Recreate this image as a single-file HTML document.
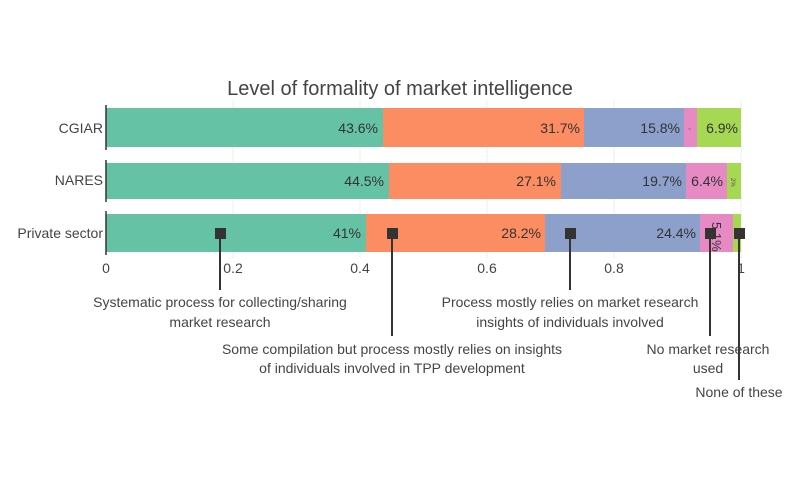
<!DOCTYPE html>
<html><head><meta charset="utf-8"><style>
body{margin:0;background:#fff;}
svg{font-family:"Liberation Sans",sans-serif;}
</style></head><body>
<svg width="800" height="480" xmlns="http://www.w3.org/2000/svg">
<rect width="800" height="480" fill="#fff"/>
<g stroke="#eee" stroke-width="1">
<line x1="233" y1="100" x2="233" y2="258"/><line x1="360" y1="100" x2="360" y2="258"/>
<line x1="487" y1="100" x2="487" y2="258"/><line x1="614" y1="100" x2="614" y2="258"/>
<line x1="741" y1="100" x2="741" y2="258"/>
</g>
<text x="400" y="95" font-size="20" fill="#444" text-anchor="middle">Level of formality of market intelligence</text>
<!-- CGIAR -->
<g>
<rect x="106" y="108" width="277" height="39" fill="#66c2a5"/>
<rect x="383" y="108" width="201" height="39" fill="#fc8d62"/>
<rect x="584" y="108" width="100" height="39" fill="#8da0cb"/>
<rect x="684" y="108" width="13" height="39" fill="#e78ac3"/>
<rect x="697" y="108" width="44" height="39" fill="#a6d854"/>
</g>
<g>
<rect x="106" y="163" width="283" height="36" fill="#66c2a5"/>
<rect x="389" y="163" width="172" height="36" fill="#fc8d62"/>
<rect x="561" y="163" width="125" height="36" fill="#8da0cb"/>
<rect x="686" y="163" width="41" height="36" fill="#e78ac3"/>
<rect x="727" y="163" width="14" height="36" fill="#a6d854"/>
</g>
<g>
<rect x="106" y="214" width="260" height="38" fill="#66c2a5"/>
<rect x="366" y="214" width="179" height="38" fill="#fc8d62"/>
<rect x="545" y="214" width="155" height="38" fill="#8da0cb"/>
<rect x="700" y="214" width="33" height="38" fill="#e78ac3"/>
<rect x="733" y="214" width="8" height="38" fill="#a6d854"/>
</g>
<g stroke="#333" stroke-width="1.5">
<line x1="106" y1="105" x2="106" y2="150"/><line x1="106" y1="160" x2="106" y2="202"/><line x1="106" y1="211" x2="106" y2="255"/>
</g>
<g font-size="14" fill="#333" text-anchor="end">
<text x="378" y="133">43.6%</text><text x="580" y="133">31.7%</text><text x="680" y="133">15.8%</text><text x="738" y="133">6.9%</text>
<text x="384" y="186">44.5%</text><text x="556" y="186">27.1%</text><text x="682" y="186">19.7%</text><text x="723" y="186">6.4%</text>
<text x="361" y="238">41%</text><text x="541" y="238">28.2%</text><text x="696" y="238">24.4%</text>
</g>
<text x="0" y="0" font-size="13" fill="#333" transform="translate(712,222) rotate(90)">5.1%</text>
<text x="688" y="131" font-size="6" fill="#555">~</text>
<text x="730" y="183" font-size="6" fill="#555" transform="rotate(90 733 181)">2%</text>
<g font-size="14" fill="#444" text-anchor="middle">
<text x="106" y="273">0</text><text x="233" y="273">0.2</text><text x="360" y="273">0.4</text><text x="487" y="273">0.6</text><text x="614" y="273">0.8</text><text x="741" y="273">1</text>
</g>
<g font-size="14" fill="#444" text-anchor="end">
<text x="103" y="133">CGIAR</text><text x="103" y="185">NARES</text><text x="103" y="238">Private sector</text>
</g>
<g stroke="#333" stroke-width="2" fill="#333">
<line x1="220" y1="233" x2="220" y2="290"/><rect x="216" y="229" width="9" height="9"/>
<line x1="392" y1="233" x2="392" y2="336"/><rect x="388" y="229" width="9" height="9"/>
<line x1="570" y1="233" x2="570" y2="290"/><rect x="566" y="229" width="9" height="9"/>
<line x1="710" y1="233" x2="710" y2="336"/><rect x="706" y="229" width="9" height="9"/>
<line x1="739" y1="233" x2="739" y2="380"/><rect x="735" y="229" width="9" height="9"/>
</g>
<g font-size="14" fill="#444" text-anchor="middle">
<text x="220" y="307">Systematic process for collecting/sharing</text>
<text x="220" y="327">market research</text>
<text x="392" y="354">Some compilation but process mostly relies on insights</text>
<text x="392" y="373">of individuals involved in TPP development</text>
<text x="570" y="307">Process mostly relies on market research</text>
<text x="570" y="327">insights of individuals involved</text>
<text x="708" y="354">No market research</text>
<text x="708" y="373">used</text>
<text x="739" y="397">None of these</text>
</g>
</svg>
</body></html>
